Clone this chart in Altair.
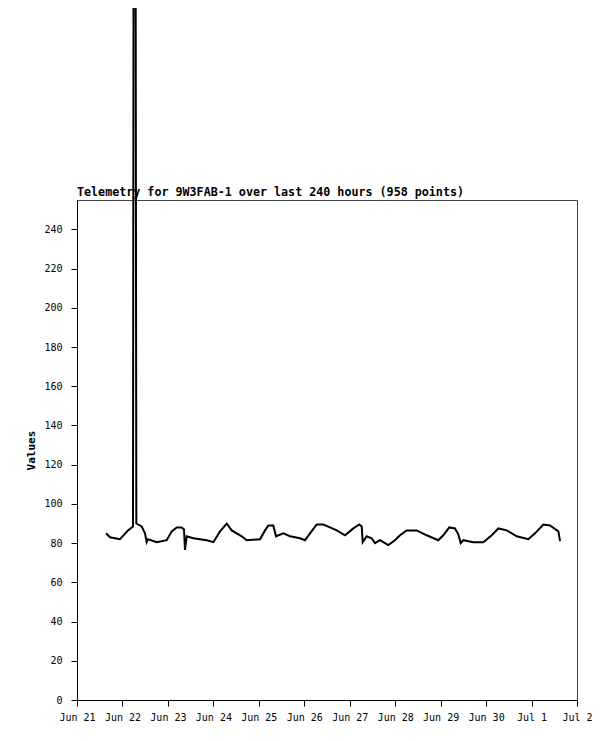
import altair as alt
import pandas as pd

chart_title = "Telemetry for 9W3FAB-1 over last 240 hours (958 points)"

times = [
    "2023-06-21T15:19:00Z", "2023-06-21T17:25:00Z", "2023-06-21T22:42:00Z",
    "2023-06-22T02:56:00Z", "2023-06-22T04:53:00Z", "2023-06-22T05:34:00Z",
    "2023-06-22T06:05:00Z", "2023-06-22T06:40:00Z", "2023-06-22T07:20:00Z",
    "2023-06-22T10:10:00Z", "2023-06-22T11:54:00Z", "2023-06-22T12:48:00Z",
    "2023-06-22T13:29:00Z", "2023-06-22T18:05:00Z", "2023-06-22T23:22:00Z",
    "2023-06-23T02:00:00Z", "2023-06-23T04:38:00Z", "2023-06-23T07:17:00Z",
    "2023-06-23T08:30:00Z", "2023-06-23T09:01:00Z", "2023-06-23T09:55:00Z",
    "2023-06-23T13:24:00Z", "2023-06-23T16:56:00Z", "2023-06-23T20:28:00Z",
    "2023-06-24T00:00:00Z", "2023-06-24T03:31:00Z", "2023-06-24T07:03:00Z",
    "2023-06-24T09:41:00Z", "2023-06-24T14:58:00Z", "2023-06-24T17:36:00Z",
    "2023-06-25T00:38:00Z", "2023-06-25T03:17:00Z", "2023-06-25T05:02:00Z",
    "2023-06-25T07:40:00Z", "2023-06-25T09:05:00Z", "2023-06-25T12:57:00Z",
    "2023-06-25T16:29:00Z", "2023-06-25T21:46:00Z", "2023-06-26T00:24:00Z",
    "2023-06-26T03:02:00Z", "2023-06-26T06:34:00Z", "2023-06-26T10:05:00Z",
    "2023-06-26T13:36:00Z", "2023-06-26T17:08:00Z", "2023-06-26T21:31:00Z",
    "2023-06-27T01:54:00Z", "2023-06-27T05:04:00Z", "2023-06-27T06:20:00Z",
    "2023-06-27T06:51:00Z", "2023-06-27T08:58:00Z", "2023-06-27T11:36:00Z",
    "2023-06-27T13:20:00Z", "2023-06-27T15:58:00Z", "2023-06-27T20:22:00Z",
    "2023-06-27T23:53:00Z", "2023-06-28T02:32:00Z", "2023-06-28T06:04:00Z",
    "2023-06-28T11:20:00Z", "2023-06-28T16:37:00Z", "2023-06-28T22:45:00Z",
    "2023-06-29T01:24:00Z", "2023-06-29T04:34:00Z", "2023-06-29T07:35:00Z",
    "2023-06-29T09:19:00Z", "2023-06-29T10:36:00Z", "2023-06-29T11:59:00Z",
    "2023-06-29T17:16:00Z", "2023-06-29T22:33:00Z", "2023-06-30T02:58:00Z",
    "2023-06-30T06:28:00Z", "2023-06-30T10:53:00Z", "2023-06-30T16:10:00Z",
    "2023-06-30T22:18:00Z", "2023-07-01T01:50:00Z", "2023-07-01T06:14:00Z",
    "2023-07-01T09:46:00Z", "2023-07-01T14:10:00Z", "2023-07-01T15:03:00Z",
]
values = [
    85, 83, 82,
    86.5, 88, 88.5,
    600, 600, 90,
    88.5, 85, 80.5,
    82, 80.5, 81.5,
    86, 88, 88,
    87, 76.5, 83.5,
    82.5, 82, 81.5,
    80.5, 86, 90,
    86.5, 83.5, 81.5,
    82, 86.5, 89,
    89, 83.5, 85,
    83.5, 82.5, 81.5,
    85, 89.5, 89.5,
    88, 86.5, 84,
    87.5, 89.5, 88.5,
    80.5, 83.5, 82.5,
    80, 81.5, 79,
    81.5, 84, 86.5,
    86.5, 84, 81.5,
    84, 88, 87.5,
    84.5, 80, 81.5,
    80.5, 80.5, 84,
    87.5, 86.5, 83.5,
    82, 85, 89.5,
    89, 86, 81,
]

day_ticks = [
    "2023-06-21", "2023-06-22", "2023-06-23", "2023-06-24", "2023-06-25",
    "2023-06-26", "2023-06-27", "2023-06-28", "2023-06-29", "2023-06-30",
    "2023-07-01", "2023-07-02",
]
y_ticks = [0, 20, 40, 60, 80, 100, 120, 140, 160, 180, 200, 220, 240]

df = pd.DataFrame({"t": times, "v": values})
title_df = pd.DataFrame({"txt": [chart_title]})

tick_ms = [pd.Timestamp(d, tz="UTC").value // 10**6 for d in day_ticks]

FONT = "DejaVu Sans Mono"

line = (
    alt.Chart(df)
    .mark_line(color="black", strokeWidth=2, interpolate="linear")
    .encode(
        x=alt.X(
            "t:T",
            scale=alt.Scale(type="utc", domain=[tick_ms[0], tick_ms[-1]]),
            axis=alt.Axis(
                values=tick_ms,
                labelExpr="utcFormat(datum.value, '%b %-d')",
                title=None,
                grid=False,
                tickSize=6,
                labelPadding=6,
                labelFont=FONT,
                labelFontSize=10,
                labelColor="black",
                domainColor="black",
                tickColor="black",
                labelOverlap=False,
                labelFlush=False,
            ),
        ),
        y=alt.Y(
            "v:Q",
            scale=alt.Scale(domain=[0, 255], nice=False, zero=True),
            axis=alt.Axis(
                values=y_ticks,
                title="Values",
                titleFont=FONT,
                titleFontSize=11,
                titleFontWeight="bold",
                titleColor="black",
                titlePadding=7,
                grid=False,
                tickSize=6,
                labelPadding=9,
                labelFont=FONT,
                labelFontSize=10,
                labelColor="black",
                domainColor="black",
                tickColor="black",
            ),
        ),
    )
)

title_text = (
    alt.Chart(title_df)
    .mark_text(
        align="left",
        baseline="alphabetic",
        font=FONT,
        fontSize=11.7,
        fontWeight="bold",
        color="black",
    )
    .encode(x=alt.value(0), y=alt.value(-4), text="txt:N")
)

chart = (
    alt.layer(line, title_text)
    .properties(
        width=500,
        height=500,
        autosize=alt.AutoSizeParams(type="none"),
        padding={"left": 69, "top": 192, "right": 30, "bottom": 33},
    )
    .configure_view(stroke="#444444", strokeWidth=1)
)

chart.save("out.html", embed_options={"renderer": "svg", "actions": False})
